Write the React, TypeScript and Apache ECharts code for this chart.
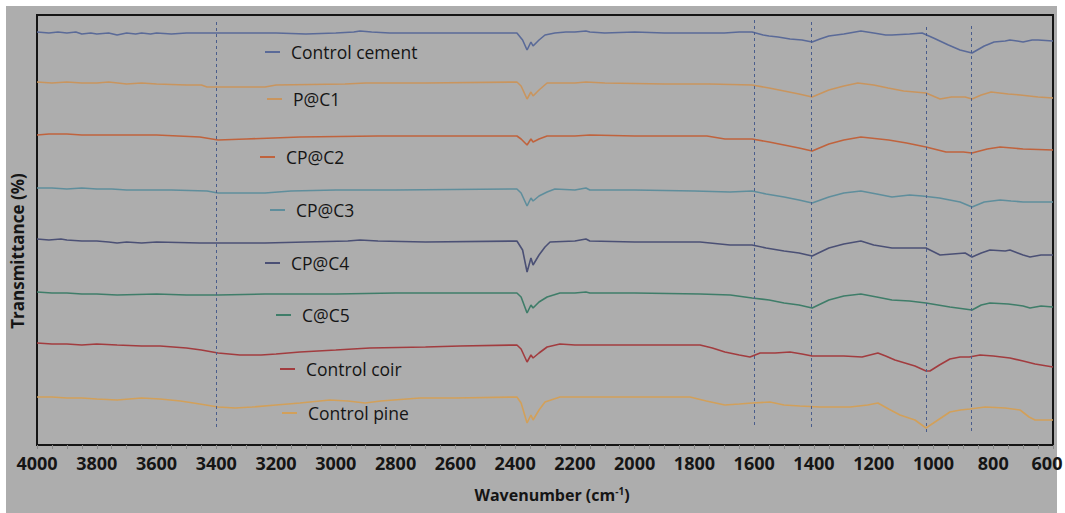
import React, { useEffect, useRef } from "react";
import * as echarts from "echarts";

// Wavenumber (cm-1), relative transmittance (offset, arbitrary units)
const controlCement: [number, number][] = [
  [4000, 413], [3960, 412], [3930, 413], [3900, 412], [3870, 413], [3850, 411], [3820, 412], [3800, 411], [3760, 412],
  [3732, 410], [3700, 412], [3670, 411], [3650, 412], [3620, 411], [3600, 412], [3550, 411], [3500, 412], [3400, 412],
  [3200, 412], [3100, 411], [3000, 412], [2940, 413], [2919, 414], [2880, 413], [2820, 412], [2700, 412], [2394, 412],
  [2375, 405], [2360, 395], [2347, 403], [2340, 399], [2320, 405], [2300, 410], [2267, 412], [2230, 413], [2200, 413],
  [2163, 414], [2150, 413], [2100, 412], [2000, 413], [1900, 412], [1800, 412], [1700, 412], [1650, 413], [1607, 413],
  [1570, 410], [1550, 409], [1520, 408], [1480, 406], [1440, 405], [1406, 403], [1380, 406], [1350, 409], [1300, 411],
  [1243, 414], [1200, 412], [1160, 410], [1139, 410], [1080, 411], [1038, 412], [1000, 407], [950, 400], [911, 395],
  [871, 392], [830, 399], [797, 403], [760, 404], [744, 405], [720, 404], [700, 403], [670, 405], [650, 405], [600, 404],
];
const pC1: [number, number][] = [
  [4000, 363], [3950, 362], [3900, 363], [3850, 362], [3800, 362], [3760, 363], [3700, 361], [3650, 362], [3600, 361],
  [3500, 360], [3450, 360], [3431, 358], [3394, 358], [3237, 358], [3200, 360], [2969, 361], [2900, 362], [2700, 362],
  [2394, 363], [2380, 359], [2360, 346], [2347, 353], [2340, 349], [2320, 355], [2293, 362], [2200, 362], [2163, 363],
  [2100, 362], [1900, 361], [1750, 361], [1607, 360], [1550, 357], [1500, 354], [1450, 351], [1406, 348], [1350, 355],
  [1300, 359], [1253, 362], [1200, 360], [1152, 357], [1100, 354], [1025, 352], [978, 346], [940, 348], [894, 348],
  [871, 346], [840, 350], [807, 353], [750, 351], [710, 350], [650, 348], [600, 347],
];
const cpC2: [number, number][] = [
  [4000, 310], [3960, 311], [3900, 311], [3850, 310], [3800, 310], [3700, 310], [3600, 310], [3455, 308], [3394, 305],
  [3300, 306], [3120, 308], [2859, 309], [2600, 309], [2394, 309], [2380, 306], [2360, 300], [2347, 306], [2340, 303],
  [2320, 306], [2293, 309], [2200, 309], [2150, 310], [2000, 309], [1850, 309], [1758, 309], [1698, 306], [1607, 306],
  [1550, 303], [1500, 300], [1450, 297], [1406, 294], [1350, 301], [1300, 305], [1243, 308], [1150, 305], [1090, 302],
  [1025, 298], [958, 293], [900, 293], [871, 292], [820, 296], [777, 298], [700, 296], [600, 295],
];
const cpC3: [number, number][] = [
  [4000, 257], [3950, 257], [3900, 256], [3850, 257], [3800, 256], [3750, 256], [3700, 255], [3550, 255], [3431, 254],
  [3394, 252], [3237, 252], [3150, 254], [3000, 255], [2800, 255], [2394, 256], [2380, 252], [2360, 239], [2347, 247],
  [2340, 244], [2320, 249], [2293, 253], [2267, 256], [2200, 255], [2163, 257], [2150, 255], [2000, 255], [1800, 254],
  [1681, 253], [1607, 254], [1560, 251], [1500, 248], [1450, 245], [1406, 242], [1350, 248], [1300, 252], [1243, 254],
  [1190, 251], [1139, 248], [1080, 250], [1038, 249], [980, 247], [911, 243], [871, 238], [830, 243], [777, 245],
  [740, 244], [700, 243], [600, 243],
];
const cpC4: [number, number][] = [
  [4000, 206], [3960, 205], [3920, 206], [3900, 205], [3850, 204], [3800, 204], [3760, 203], [3732, 202], [3700, 203],
  [3650, 202], [3600, 203], [3455, 202], [3394, 202], [3237, 202], [3100, 203], [2960, 204], [2919, 205], [2859, 204],
  [2700, 203], [2394, 204], [2375, 195], [2360, 173], [2347, 187], [2340, 180], [2320, 190], [2300, 198], [2283, 203],
  [2200, 204], [2163, 206], [2150, 204], [2000, 203], [1900, 203], [1781, 203], [1681, 200], [1607, 200], [1560, 197],
  [1500, 194], [1450, 192], [1406, 189], [1350, 197], [1300, 201], [1243, 204], [1200, 200], [1139, 197], [1025, 197],
  [978, 190], [894, 192], [871, 188], [840, 192], [811, 195], [760, 194], [744, 195], [700, 190], [677, 188], [640, 190],
  [600, 190],
];
const cC5: [number, number][] = [
  [4000, 153], [3950, 152], [3900, 152], [3850, 151], [3800, 151], [3732, 150], [3600, 151], [3500, 150], [3394, 150],
  [3237, 151], [3000, 151], [2800, 152], [2394, 152], [2380, 148], [2360, 132], [2347, 140], [2340, 137], [2320, 143],
  [2293, 148], [2250, 152], [2200, 152], [2163, 153], [2150, 152], [2000, 152], [1781, 151], [1680, 150], [1607, 147],
  [1550, 145], [1500, 142], [1450, 140], [1406, 137], [1350, 145], [1300, 149], [1243, 151], [1190, 148], [1139, 145],
  [1080, 144], [1025, 142], [945, 138], [871, 135], [840, 140], [811, 142], [750, 141], [700, 139], [677, 137],
  [640, 139], [600, 138],
];
const controlCoir: [number, number][] = [
  [4000, 102], [3950, 101], [3900, 101], [3850, 100], [3800, 101], [3732, 100], [3650, 99], [3588, 99], [3500, 97],
  [3450, 95], [3394, 92], [3321, 90], [3250, 90], [3200, 91], [3120, 93], [3000, 95], [2886, 97], [2700, 98],
  [2584, 99], [2394, 100], [2380, 96], [2360, 83], [2347, 90], [2340, 87], [2320, 92], [2293, 98], [2250, 101],
  [2200, 100], [2100, 100], [1900, 100], [1781, 100], [1740, 97], [1698, 93], [1650, 90], [1614, 88], [1580, 92],
  [1530, 92], [1480, 93], [1440, 91], [1406, 89], [1300, 89], [1239, 88], [1186, 92], [1160, 89], [1129, 85],
  [1062, 79], [1025, 74], [1012, 74], [980, 80], [945, 86], [911, 88], [880, 88], [844, 90], [800, 89], [744, 87],
  [700, 84], [660, 81], [600, 78],
];
const controlPine: [number, number][] = [
  [4000, 48], [3950, 48], [3900, 47], [3850, 47], [3800, 46], [3732, 45], [3650, 47], [3588, 46], [3520, 44],
  [3455, 41], [3394, 38], [3337, 37], [3280, 38], [3200, 40], [3120, 42], [3020, 45], [2960, 44], [2902, 42],
  [2850, 44], [2718, 47], [2600, 47], [2394, 48], [2380, 42], [2360, 22], [2347, 30], [2340, 25], [2320, 35],
  [2300, 43], [2250, 48], [2200, 48], [2000, 48], [1815, 48], [1760, 44], [1698, 40], [1650, 41], [1607, 42],
  [1547, 43], [1500, 40], [1447, 39], [1380, 38], [1279, 38], [1220, 40], [1186, 42], [1150, 36], [1112, 30],
  [1062, 25], [1025, 17], [990, 24], [945, 33], [910, 35], [878, 36], [827, 38], [760, 37], [710, 35], [680, 28],
  [660, 25], [600, 25],
];

const seriesNames = ["Control cement", "P@C1", "CP@C2", "CP@C3", "CP@C4", "C@C5", "Control coir", "Control pine"];
const seriesData = [controlCement, pC1, cpC2, cpC3, cpC4, cC5, controlCoir, controlPine];
const seriesColors = ["#5a6a98", "#c9955e", "#c0633d", "#5f8e9c", "#4b5075", "#3f7d69", "#a23c3f", "#d2a05a"];

// dashed guide lines: wavenumber, top value, bottom value
const guideWavenumbers = [3400, 1600, 1410, 1025, 875];
const guideTop = [423, 425, 423, 418, 419];
const guideBottom = [18, 20, 17, 12, 13];

// legend entries: page position of line start / centre y
const legendLeft = [265, 267, 260, 270, 265, 276, 280, 282];
const legendCenterY = [55, 102, 160, 213, 266, 318, 372, 416];

const xTickMin = 600;
const xTickMax = 4000;
const xTickInterval = 200;

export default function App() {
  const ref = useRef<HTMLDivElement>(null);

  useEffect(() => {
    if (!ref.current) return;
    const chart = echarts.init(ref.current, undefined, { renderer: "svg" });

    const series: any[] = seriesNames.map((name, i) => ({
      name,
      type: "line",
      data: seriesData[i],
      showSymbol: false,
      symbol: "none",
      lineStyle: { width: 1.6, color: seriesColors[i] },
      itemStyle: { color: seriesColors[i] },
      z: 3,
      ...(i === 0
        ? {
            markLine: {
              silent: true,
              symbol: ["none", "none"],
              label: { show: false },
              lineStyle: { type: [3, 3], color: "#4a5d8c", width: 1 },
              data: guideWavenumbers.map((w, k) => [
                { coord: [w, guideTop[k]] },
                { coord: [w, guideBottom[k]] },
              ]),
            },
          }
        : {}),
    }));

    const legends = seriesNames.map((name, i) => ({
      data: [name],
      left: legendLeft[i],
      top: legendCenterY[i] - 12,
      padding: 0,
      icon: "rect",
      itemWidth: 15,
      itemHeight: 2,
      selectedMode: false,
      textStyle: {
        fontFamily: "'Open Sans', sans-serif",
        fontSize: 17.5,
        color: "#151515",
        padding: [0, 0, 0, 6],
      },
    }));

    chart.setOption({
      animation: false,
      backgroundColor: "transparent",
      grid: {
        left: 37,
        top: 15,
        width: 1016,
        height: 430,
        outerBoundsMode: "none",
        containLabel: false,
        show: true,
        borderColor: "#151515",
        borderWidth: 2,
        backgroundColor: "transparent",
      },
      legend: legends,
      xAxis: {
        type: "value",
        inverse: true,
        min: xTickMin,
        max: xTickMax,
        interval: xTickInterval,
        axisLine: { show: true, lineStyle: { color: "#151515", width: 2 } },
        axisTick: { show: true, length: 4, lineStyle: { color: "#8a8a8a", width: 1 } },
        minorTick: { show: true, splitNumber: 4, length: 4, lineStyle: { color: "#8a8a8a", width: 1 } },
        splitLine: { show: false },
        axisLabel: {
          margin: 9,
          fontFamily: "'Open Sans', sans-serif",
          fontWeight: "bold",
          fontSize: 18,
          color: "#151515",
          formatter: (v: number) => (v === xTickMin ? "{e|" + String(v) + "}" : String(v)),
          rich: {
            e: {
              fontFamily: "'Open Sans', sans-serif",
              fontWeight: "bold",
              fontSize: 18,
              color: "#151515",
              padding: [0, 12, 0, 0],
            },
          },
        },
      },
      yAxis: {
        type: "value",
        show: false,
        min: 0,
        max: 430,
      },
      graphic: [
        {
          type: "text",
          x: 17,
          y: 251,
          rotation: Math.PI / 2,
          style: {
            text: "Transmittance (%)",
            fontFamily: "'Open Sans', sans-serif",
            fontWeight: "bold",
            fontSize: 17,
            fill: "#151515",
            align: "center",
            verticalAlign: "middle",
          },
        },
        {
          type: "text",
          x: 552,
          y: 495,
          style: {
            text: "{a|Wavenumber (cm}{s|-1}{a|)}",
            align: "center",
            verticalAlign: "middle",
            rich: {
              a: {
                fontFamily: "'Open Sans', sans-serif",
                fontWeight: "bold",
                fontSize: 16,
                fill: "#151515",
              },
              s: {
                fontFamily: "'Open Sans', sans-serif",
                fontWeight: "bold",
                fontSize: 10,
                fill: "#151515",
                padding: [0, 0, 9, 0],
              },
            },
          },
        },
      ],
      series,
    });

    return () => chart.dispose();
  }, []);

  return (
    <div style={{ position: "fixed", left: 0, top: 0, width: 1065, height: 513, background: "#ffffff" }}>
      <div style={{ position: "absolute", left: 6, top: 6, width: 1051, height: 507, background: "#adadad" }} />
      <div ref={ref} style={{ position: "absolute", left: 0, top: 0, width: 1065, height: 513 }} />
    </div>
  );
}
